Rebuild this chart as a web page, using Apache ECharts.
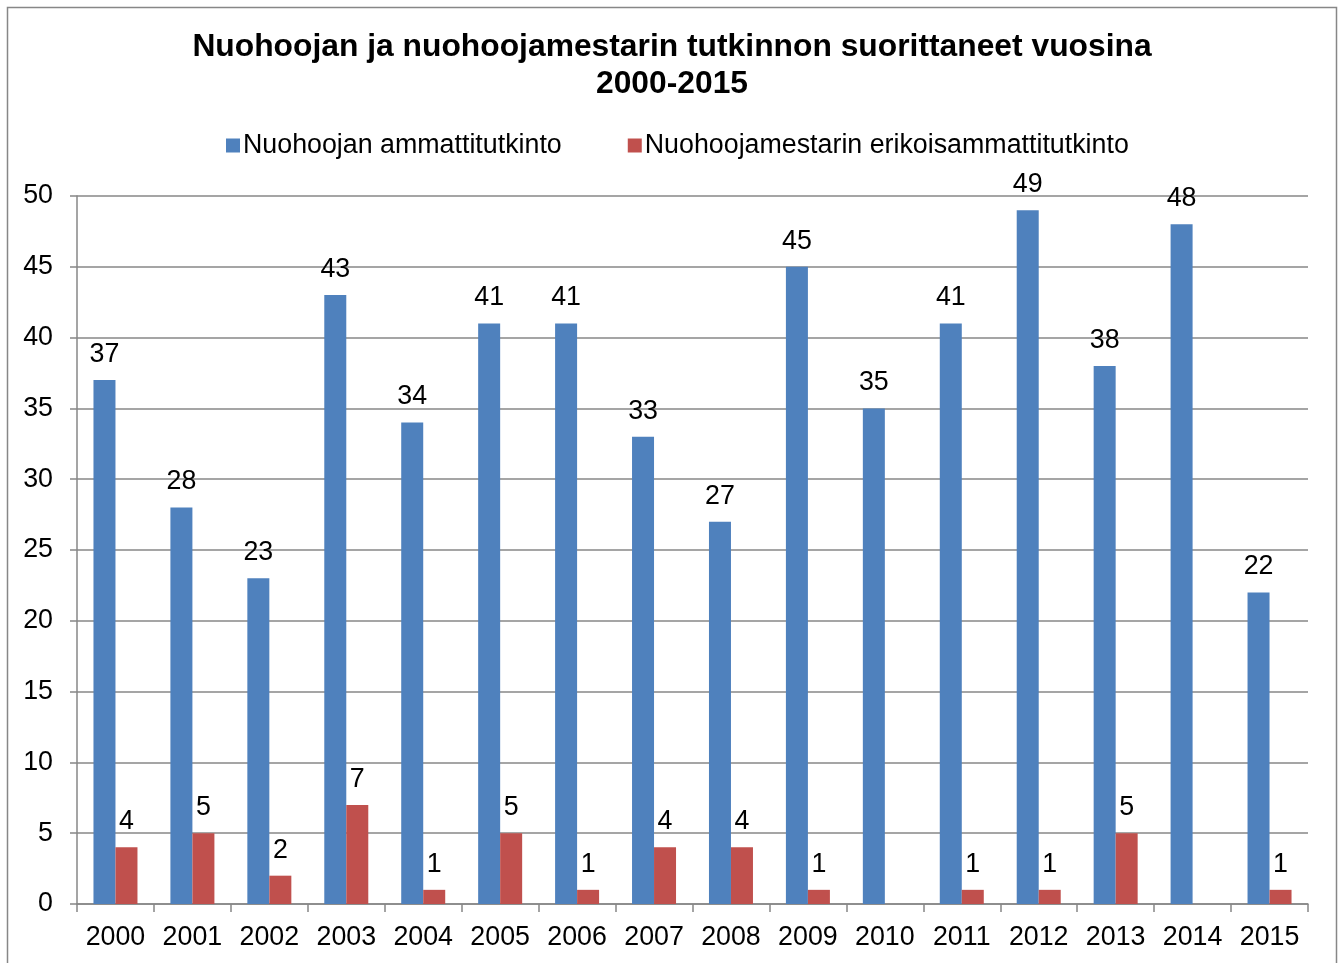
<!DOCTYPE html>
<html><head><meta charset="utf-8">
<script src="https://cdn.jsdelivr.net/npm/echarts@6/dist/echarts.min.js"></script>
<style>html,body{margin:0;padding:0;background:#fff}#c{width:1342px;height:963px}</style>
</head><body><div id="c"></div>
<script>
var years = ['2000','2001','2002','2003','2004','2005','2006','2007','2008','2009','2010','2011','2012','2013','2014','2015'];
var ammatti = [37,28,23,43,34,41,41,33,27,45,35,41,49,38,48,22];
var mestari = [4,5,2,7,1,5,1,4,4,1,null,1,1,5,null,1];
var yTicks = {min:0, max:50, interval:5};
var names = ['Nuohoojan ammattitutkinto','Nuohoojamestarin erikoisammattitutkinto'];
var titleLines = ['Nuohoojan ja nuohoojamestarin tutkinnon suorittaneet vuosina','2000-2015'];

var font = '"Liberation Sans", Arial, sans-serif';
var chart = echarts.init(document.getElementById('c'));
chart.setOption({
  animation:false,
  textStyle:{fontFamily:font},
  graphic:[
    {type:'rect',shape:{x:7.5,y:7.5,width:1329,height:970},style:{fill:'none',stroke:'#878787',lineWidth:1.5},silent:true},
    {type:'text',x:672,y:47,style:{text:titleLines[0],fontFamily:font,fontWeight:'bold',fontSize:31.8,fill:'#000',align:'center',verticalAlign:'middle'}},
    {type:'text',x:672,y:84,style:{text:titleLines[1],fontFamily:font,fontWeight:'bold',fontSize:31.8,fill:'#000',align:'center',verticalAlign:'middle'}}
  ],
  legend:{top:127,left:221,itemWidth:14,itemHeight:14,itemGap:66,icon:'rect',
    textStyle:{fontFamily:font,fontSize:26.8,color:'#000',padding:[0,0,0,-2]},data:names},
  grid:{left:77,right:34,top:196,bottom:59,containLabel:false},
  xAxis:{type:'category',data:years,
    axisLine:{lineStyle:{color:'#878787',width:1.5}},
    axisTick:{show:true,interval:0,alignWithLabel:false,length:8,lineStyle:{color:'#878787',width:1.5}},
    axisLabel:{fontFamily:font,fontSize:26.8,color:'#000',margin:20,interval:0}},
  yAxis:{type:'value',min:yTicks.min,max:yTicks.max,interval:yTicks.interval,
    axisLine:{show:true,lineStyle:{color:'#878787',width:1.5}},
    axisTick:{show:true,length:7,lineStyle:{color:'#878787',width:1.5}},
    splitLine:{lineStyle:{color:'#878787',width:1.5}},
    axisLabel:{fontFamily:font,fontSize:26.8,color:'#000',margin:24}},
  series:[
    {name:names[0],type:'bar',data:ammatti,barWidth:22,barGap:'0%',
     itemStyle:{color:'#4f81bd'},
     label:{show:true,position:'top',distance:12,fontFamily:font,fontSize:26.8,color:'#000'}},
    {name:names[1],type:'bar',data:mestari,barWidth:22,barGap:'0%',
     itemStyle:{color:'#c0504d'},
     label:{show:true,position:'top',distance:12,fontFamily:font,fontSize:26.8,color:'#000'}}
  ]
});
</script></body></html>
